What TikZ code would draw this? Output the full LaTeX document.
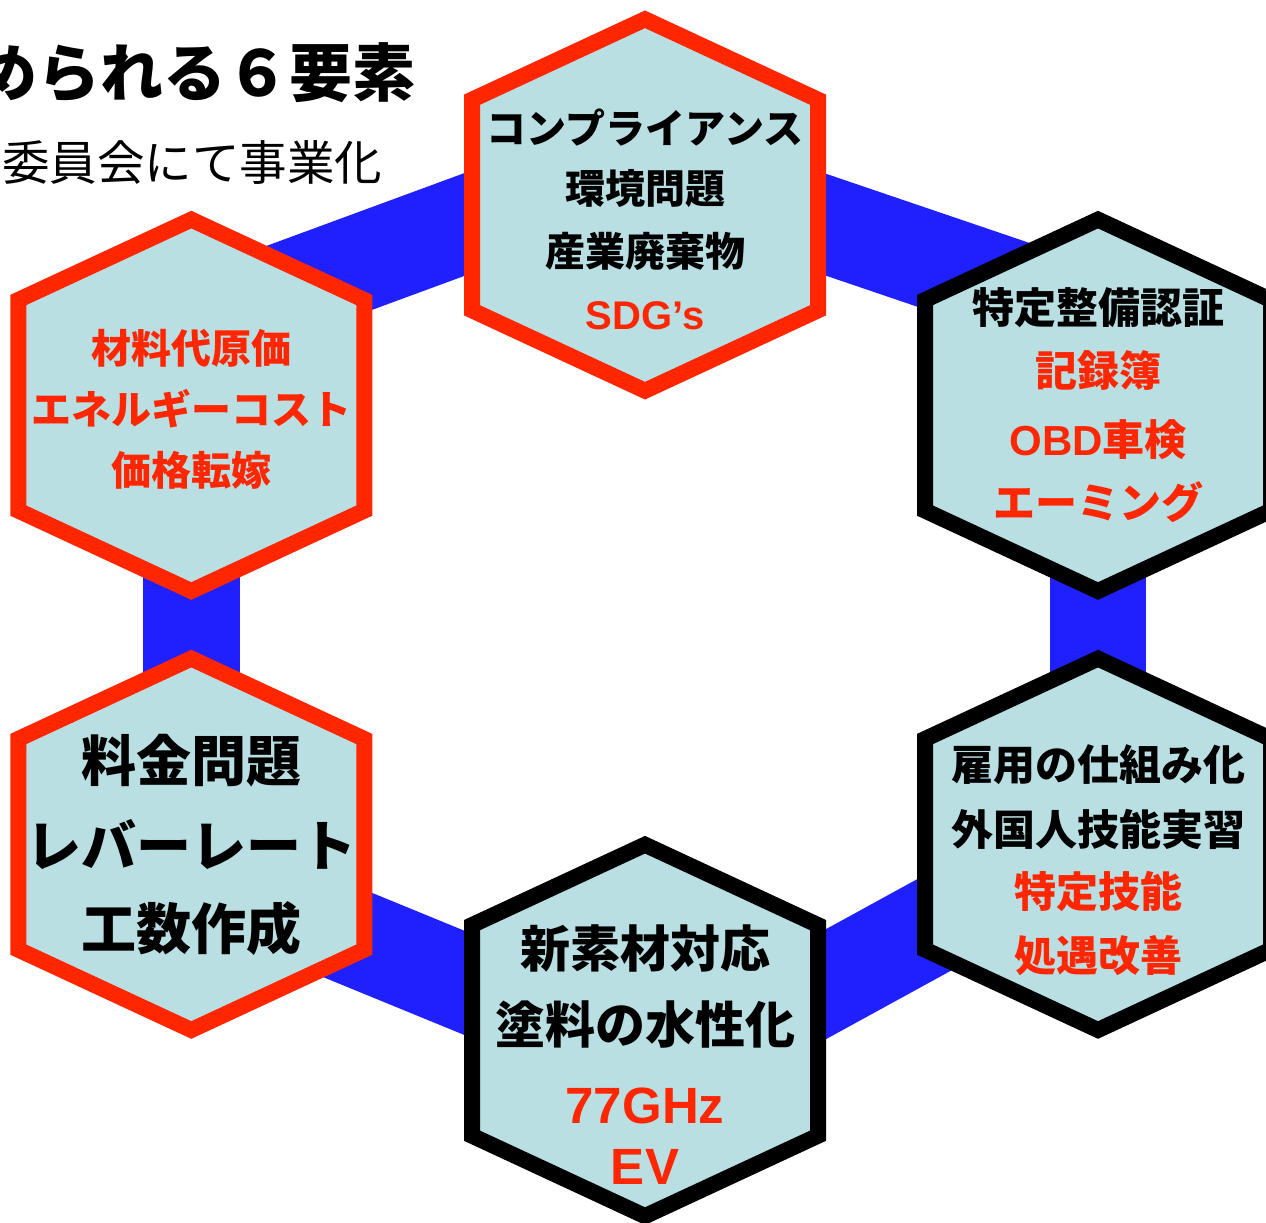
\documentclass[tikz,border=0pt]{standalone}
\usepackage{fontspec}
\newfontfamily\jp{Noto Sans CJK JP}
\newfontfamily\lat{Liberation Sans}
\usetikzlibrary{calc}
\definecolor{hred}{RGB}{255,38,0}
\definecolor{hfill}{RGB}{185,223,227}
\definecolor{barblue}{RGB}{32,32,255}
\tikzset{
  ringbar/.style={draw=barblue, line width=96.5pt, line cap=butt},
  hexred/.style={draw=hred, fill=hfill, line width=16pt, line join=miter},
  hexblk/.style={draw=black, fill=hfill, line width=16pt, line join=miter},
  hexa/.pic={\path[pic actions] (0,-185.7) -- (173,-105.3) -- (173,105.3) -- (0,185.7) -- (-173,105.3) -- (-173,-105.3) -- cycle;},
  ln/.style={inner sep=0pt, anchor=center},
  j40/.style={ln, font=\jp\bfseries\fontsize{40}{48}\selectfont},
  j42/.style={ln, font=\jp\bfseries\fontsize{42}{50}\selectfont},
  j50/.style={ln, font=\jp\bfseries\fontsize{50}{60}\selectfont},
  j55/.style={ln, font=\jp\bfseries\fontsize{55}{66}\selectfont},
  l40/.style={ln, font=\lat\bfseries\fontsize{40}{48}\selectfont},
  l51/.style={ln, font=\lat\bfseries\fontsize{51}{61}\selectfont},
}
\begin{document}
\begin{tikzpicture}[x=1pt,y=-1pt]
\useasboundingbox (0,0) rectangle (1266,1223);
% hexagon centres
\coordinate (T)  at (645,205);
\coordinate (TL) at (191.3,405.3);
\coordinate (TR) at (1098,405.3);
\coordinate (BL) at (191.3,844.3);
\coordinate (BR) at (1098,844.3);
\coordinate (B)  at (645,1030.4);
% bar ends (hidden behind the hexagons)
\coordinate (b1a) at (191.3,325);
\coordinate (b1b) at (645,158);
\coordinate (b2a) at (645,163.2);
\coordinate (b2b) at (1098,317.2);
\coordinate (b3a) at (191.3,870.9);
\coordinate (b3b) at (645,1056.9);
\coordinate (b4a) at (645,1083.3);
\coordinate (b4b) at (1098,835.1);
% blue ring bars
\draw[ringbar] (TL) -- (BL);
\draw[ringbar] (TR) -- (BR);
\draw[ringbar] (b1a) -- (b1b);
\draw[ringbar] (b2a) -- (b2b);
\draw[ringbar] (b3a) -- (b3b);
\draw[ringbar] (b4a) -- (b4b);
% hexagons
\pic[hexred] at (T) {hexa};
\pic[hexred] at (TL) {hexa};
\pic[hexblk] at (TR) {hexa};
\pic[hexred] at (BL) {hexa};
\pic[hexblk] at (BR) {hexa};
\pic[hexblk] at (B) {hexa};
% title
\node[inner sep=0pt, anchor=east, font=\jp\bfseries\fontsize{63}{63}\selectfont] (title) at (416,73) {められる６要素};
\node[inner sep=0pt, anchor=west, font=\jp\fontsize{47.5}{47.5}\selectfont] (sub) at (2,162) {委員会にて事業化};
% top
\node[j40] (t1) at (645,128) {コンプライアンス};
\node[j40] (t2) at (645,189) {環境問題};
\node[j40] (t3) at (645,251) {産業廃棄物};
\node[l40, text=hred] (t4) at (645,316) {SDG’s};
% top left
\node[j40, text=hred] (a1) at (191.3,348) {材料代原価};
\node[j40, text=hred] (a2) at (191.3,409) {エネルギーコスト};
\node[j40, text=hred] (a3) at (191.3,470) {価格転嫁};
% top right
\node[j42] (b1) at (1098,307.5) {特定整備認証};
\node[j42, text=hred] (b2) at (1098,371) {記録簿};
\node[j42, text=hred] (b3) at (1098,440) {{\lat\bfseries\fontsize{42}{42}\selectfont OBD}車検};
\node[j42, text=hred] (b4) at (1098,502.5) {エーミング};
% bottom left
\node[j55] (c1) at (191.3,760.5) {料金問題};
\node[j55] (c2) at (191.3,844.5) {レバーレート};
\node[j55] (c3) at (191.3,929) {工数作成};
% bottom right
\node[j42] (d1) at (1098,765) {雇用の仕組み化};
\node[j42] (d2) at (1098,829) {外国人技能実習};
\node[j42, text=hred] (d3) at (1098,892) {特定技能};
\node[j42, text=hred] (d4) at (1098,955.5) {処遇改善};
% bottom
\node[j50] (e1) at (645,948) {新素材対応};
\node[j50] (e2) at (645,1024) {塗料の水性化};
\node[l51, text=hred] (e3) at (645,1106) {77GHz};
\node[l51, text=hred] (e4) at (645,1167) {EV};
\end{tikzpicture}
\end{document}
